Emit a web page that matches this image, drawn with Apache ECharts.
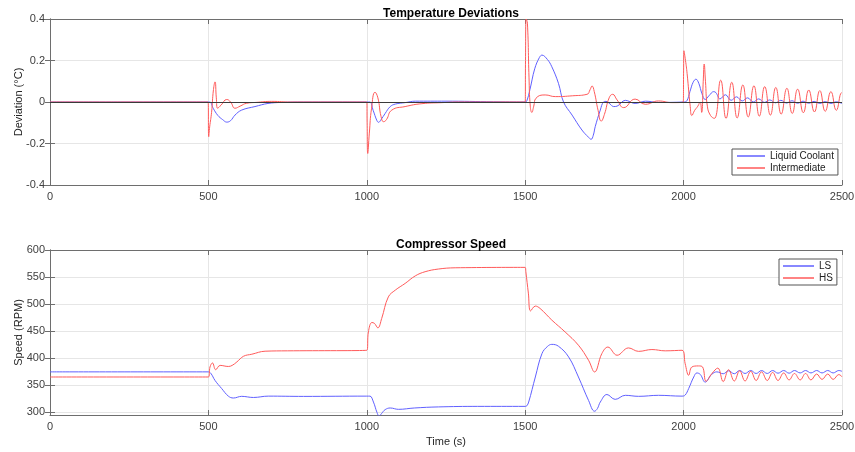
<!DOCTYPE html>
<html>
<head>
<meta charset="utf-8">
<script src="https://cdn.jsdelivr.net/npm/echarts@6/dist/echarts.min.js"></script>
<style>
  html, body { margin: 0; padding: 0; background: #fff; }
  #chart { width: 855px; height: 452px; }
</style>
</head>
<body>
<div id="chart"></div>
<script>
// time (s), value pairs
var coolantDev = [
  [0, 0], [500, 0], [505, 0], [515, -0.03], [530, -0.065], [545, -0.085], [558, -0.097], [570, -0.09],
  [584, -0.063], [605, -0.039], [647, -0.022], [688, -0.007], [730, -0.002], [800, 0], [1000, 0],
  [1010, 0], [1020, -0.04], [1032, -0.09], [1037, -0.098], [1045, -0.085], [1058, -0.055], [1074, -0.022],
  [1090, -0.01], [1121, -0.003], [1153, 0.004], [1250, 0.004], [1400, 0.001], [1500, 0], [1505, 0.005],
  [1515, 0.06], [1530, 0.16], [1545, 0.215], [1553, 0.226], [1570, 0.205], [1584, 0.17], [1605, 0.09],
  [1621, 0], [1648, -0.063], [1679, -0.135], [1700, -0.17], [1708, -0.18], [1715, -0.16], [1721, -0.119],
  [1737, -0.039], [1747, 0], [1755, 0.003], [1768, -0.01], [1779, -0.022], [1790, -0.02], [1816, 0.008],
  [1847, -0.007], [1880, 0.004], [1920, -0.002], [2000, 0], [2010, 0.005], [2020, 0.05], [2030, 0.095],
  [2039, 0.11], [2048, 0.09], [2058, 0.04], [2068, 0.012], [2080, 0.03], [2095, 0.05], [2102, 0.045],
  [2115, 0.015], [2132, 0.035], [2150, 0.008], [2167, 0.025], [2185, 0.005], [2202, 0.02], [2220, 0],
  [2237, 0.015], [2255, -0.002], [2272, 0.01], [2290, -0.004], [2307, 0.008], [2325, -0.005], [2342, 0.006],
  [2360, -0.006], [2377, 0.004], [2395, -0.006], [2412, 0.003], [2430, -0.007], [2447, 0.002], [2465, -0.007],
  [2482, 0.001], [2500, -0.007]
]
var interDev = [
  [0, 0], [499, 0], [501, -0.167], [504, -0.12], [510, -0.05], [516, 0.06], [521, 0.097], [525, 0.02],
  [529, -0.03], [540, -0.015], [558, 0.012], [570, 0], [584, -0.03], [600, -0.02], [621, -0.006],
  [650, -0.002], [700, 0.003], [760, 0], [1000, 0], [1001, -0.1], [1003, -0.248], [1008, -0.15],
  [1015, -0.03], [1026, 0.047], [1035, 0.02], [1045, -0.07], [1053, -0.095], [1062, -0.085], [1079, -0.039],
  [1121, -0.022], [1174, -0.008], [1237, -0.003], [1300, 0], [1500, 0], [1501, 0.2], [1503, 0.4],
  [1507, 0.38], [1512, 0.12], [1516, -0.02], [1521, -0.05], [1527, -0.02], [1534, 0.018], [1563, 0.034],
  [1595, 0.026], [1650, 0.03], [1695, 0.037], [1705, 0.06], [1711, 0.077], [1718, 0.05], [1730, -0.04],
  [1740, -0.092], [1750, -0.06], [1765, 0.02], [1776, 0.037], [1790, 0.01], [1811, -0.027], [1847, 0.014],
  [1879, -0.011], [1921, 0.005], [1963, -0.003], [1999, 0], [2000, 0.15], [2001, 0.247], [2006, 0.2],
  [2011, 0.138], [2021, -0.022], [2026, -0.065], [2035, -0.04], [2045, -0.02], [2052, 0], [2057, -0.05],
  [2062, 0.1], [2065, 0.183], [2069, 0.1], [2075, -0.02], [2085, -0.065], [2097, -0.079], [2117, 0.105],
  [2134, -0.079], [2152, 0.095], [2169, -0.077], [2187, 0.082], [2204, -0.072], [2222, 0.078], [2239, -0.068],
  [2256, 0.074], [2274, -0.063], [2291, 0.07], [2308, -0.058], [2326, 0.066], [2343, -0.055], [2360, 0.062],
  [2378, -0.052], [2395, 0.058], [2413, -0.048], [2430, 0.055], [2447, -0.045], [2465, 0.05], [2482, -0.04],
  [2499, 0.045], [2500, 0.044]
]
var speedLS = [
  [0, 374], [500, 374], [508, 371], [521, 358], [542, 343], [563, 329], [579, 325.5], [605, 328.6],
  [642, 326.5], [689, 329], [800, 328.5], [1000, 329], [1010, 329], [1021, 318], [1032, 299], [1039, 292],
  [1047, 297], [1058, 304], [1074, 307], [1100, 304.5], [1150, 307], [1226, 309], [1350, 310], [1500, 310],
  [1505, 311], [1511, 318], [1532, 364.5], [1553, 408], [1570, 421], [1584, 425], [1605, 421.5],
  [1637, 401.7], [1668, 364.5], [1700, 321], [1719, 301], [1728, 306], [1737, 318], [1758, 332],
  [1784, 323], [1816, 330.5], [1858, 328.6], [1921, 330.5], [1995, 329], [2005, 331], [2016, 343],
  [2032, 364.5], [2042, 372], [2053, 369], [2068, 355], [2089, 369.5], [2105, 374], [2125, 370.5],
  [2142, 376], [2160, 370.5], [2177, 376.5], [2194, 371], [2212, 376.5], [2229, 371], [2246, 376.5],
  [2264, 371], [2281, 376.5], [2298, 371.5], [2316, 376.5], [2333, 371.5], [2350, 376.5], [2368, 372],
  [2385, 376.5], [2402, 372], [2420, 376.5], [2437, 372], [2455, 376.5], [2472, 372], [2490, 376.5],
  [2500, 375]
]
var speedHS = [
  [0, 364.5], [500, 364.5], [505, 383], [513, 390.5], [523, 378], [537, 386], [563, 384], [575, 386],
  [590, 392.5], [611, 403], [637, 406.7], [679, 412.3], [750, 413], [1000, 414], [1005, 448], [1016, 465.5],
  [1024, 464], [1035, 455.6], [1047, 473], [1068, 513], [1090, 525.6], [1121, 538], [1153, 552],
  [1184, 559.7], [1226, 564.7], [1279, 567], [1500, 567.8], [1502, 560], [1510, 520], [1517, 487],
  [1532, 496], [1547, 491.6], [1584, 470], [1626, 448], [1668, 423.4], [1700, 395.5], [1719, 373.8],
  [1742, 408], [1761, 420], [1790, 404.8], [1826, 418.4], [1858, 412], [1900, 415.4], [1942, 413],
  [1995, 414], [2005, 389], [2016, 367.6], [2026, 383], [2047, 385], [2060, 383], [2071, 356.5],
  [2089, 370.7], [2108, 381], [2125, 356], [2142, 378], [2160, 357], [2177, 376], [2194, 357], [2212, 375],
  [2229, 358], [2246, 374], [2264, 358], [2281, 373], [2298, 358], [2316, 372], [2333, 359], [2350, 371],
  [2368, 359], [2385, 371], [2402, 359], [2420, 370], [2437, 360], [2455, 370], [2472, 360], [2490, 369],
  [2500, 365]
]
var speedTicks = [300, 350, 400, 450, 500, 550, 600]

var BLUE = '#6060ff'
var RED = '#ff5a5a'
var FONT = 'Liberation Sans'
var AXIS = '#6e6e6e'

var chartDom = document.getElementById('chart')
var myChart = echarts.init(chartDom)

function xAx(grid, pos, withLabels) {
  return {
    type: 'value', gridIndex: grid, position: pos, min: 0, max: 2500, interval: 500,
    axisLine: { onZero: false, lineStyle: { color: AXIS } },
    axisTick: { inside: true, length: 5, lineStyle: { color: AXIS } },
    axisLabel: { show: withLabels, color: '#404040', fontSize: 11, fontFamily: FONT, margin: 6,
      formatter: function (v) { return String(v) } },
    splitLine: { show: withLabels, lineStyle: { color: '#e6e6e6' } }
  }
}

var option = {
  animation: false,
  backgroundColor: '#fff',
  textStyle: { fontFamily: FONT },
  title: [
    { text: 'Temperature Deviations', left: 446, top: 3, textAlign: 'center',
      textStyle: { fontSize: 12, fontWeight: 'bold', color: '#000', fontFamily: FONT } },
    { text: 'Compressor Speed', left: 446, top: 234, textAlign: 'center',
      textStyle: { fontSize: 12, fontWeight: 'bold', color: '#000', fontFamily: FONT } }
  ],
  legend: [
    { data: ['Liquid Coolant', 'Intermediate'], orient: 'vertical', left: 732, top: 149,
      icon: 'rect', itemWidth: 28, itemHeight: 1.5, itemGap: 2, padding: [2, 4, 2, 5],
      borderColor: '#555', borderWidth: 1, backgroundColor: '#fff',
      textStyle: { fontSize: 10, color: '#222', fontFamily: FONT } },
    { data: ['LS', 'HS'], orient: 'vertical', left: 779, top: 259,
      icon: 'rect', itemWidth: 31, itemHeight: 1.5, itemGap: 2, padding: [2, 4, 2, 4],
      borderColor: '#555', borderWidth: 1, backgroundColor: '#fff',
      textStyle: { fontSize: 10, color: '#222', fontFamily: FONT } }
  ],
  grid: [
    { left: 50, right: 13, top: 19, height: 166, outerBoundsMode: 'none', containLabel: false },
    { left: 50, right: 13, top: 250, height: 165, outerBoundsMode: 'none', containLabel: false }
  ],
  xAxis: [
    xAx(0, 'bottom', true),
    xAx(0, 'top', false),
    Object.assign(xAx(1, 'bottom', true), {
      name: 'Time (s)', nameLocation: 'middle', nameGap: 21, nameMoveOverlap: false,
      nameTextStyle: { fontSize: 11, color: '#262626', fontFamily: FONT }
    }),
    xAx(1, 'top', false)
  ],
  yAxis: [
    {
      type: 'value', gridIndex: 0, min: -0.4, max: 0.4, interval: 0.2,
      name: 'Deviation (°C)', nameLocation: 'middle', nameGap: 26, nameMoveOverlap: false,
      nameTextStyle: { fontSize: 11, color: '#262626', fontFamily: FONT },
      axisLine: { show: true, lineStyle: { color: AXIS } },
      axisTick: { show: true, inside: true, length: 5, lineStyle: { color: AXIS } },
      axisLabel: { color: '#404040', fontSize: 11, fontFamily: FONT, margin: 5 },
      splitLine: { lineStyle: { color: '#e6e6e6' } }
    },
    {
      type: 'value', gridIndex: 0, position: 'right', min: -0.4, max: 0.4, interval: 0.2,
      axisLine: { show: true, lineStyle: { color: AXIS } },
      axisTick: { show: true, inside: true, length: 5, lineStyle: { color: AXIS } },
      axisLabel: { show: false }, splitLine: { show: false }
    },
    {
      type: 'value', gridIndex: 1, min: 294, max: 600,
      name: 'Speed (RPM)', nameLocation: 'middle', nameGap: 26, nameMoveOverlap: false,
      nameTextStyle: { fontSize: 11, color: '#262626', fontFamily: FONT },
      axisLine: { show: true, lineStyle: { color: AXIS } },
      axisTick: { show: true, inside: true, length: 5, customValues: speedTicks, lineStyle: { color: AXIS } },
      axisLabel: { color: '#404040', fontSize: 11, fontFamily: FONT, margin: 5, customValues: speedTicks },
      splitLine: { lineStyle: { color: '#e6e6e6' } }
    },
    {
      type: 'value', gridIndex: 1, position: 'right', min: 294, max: 600,
      axisLine: { show: true, lineStyle: { color: AXIS } },
      axisTick: { show: true, inside: true, length: 5, customValues: speedTicks, lineStyle: { color: AXIS } },
      axisLabel: { show: false, customValues: speedTicks }, splitLine: { show: false }
    }
  ],
  series: [
    {
      name: 'Liquid Coolant', type: 'line', xAxisIndex: 0, yAxisIndex: 0, data: coolantDev,
      showSymbol: false, smooth: 0.4, lineStyle: { color: BLUE, width: 1 }, itemStyle: { color: BLUE },
      markLine: {
        silent: true, symbol: 'none', label: { show: false },
        lineStyle: { color: '#3a3a3a', width: 1, type: 'solid' }, data: [{ yAxis: 0 }]
      }
    },
    {
      name: 'Intermediate', type: 'line', xAxisIndex: 0, yAxisIndex: 0, data: interDev,
      showSymbol: false, smooth: 0.5, lineStyle: { color: RED, width: 1 }, itemStyle: { color: RED }
    },
    {
      name: 'LS', type: 'line', xAxisIndex: 2, yAxisIndex: 2, data: speedLS,
      showSymbol: false, smooth: 0.4, lineStyle: { color: BLUE, width: 1 }, itemStyle: { color: BLUE }
    },
    {
      name: 'HS', type: 'line', xAxisIndex: 2, yAxisIndex: 2, data: speedHS,
      showSymbol: false, smooth: 0.4, lineStyle: { color: RED, width: 1 }, itemStyle: { color: RED }
    }
  ]
}

option && myChart.setOption(option)
</script>
</body>
</html>
